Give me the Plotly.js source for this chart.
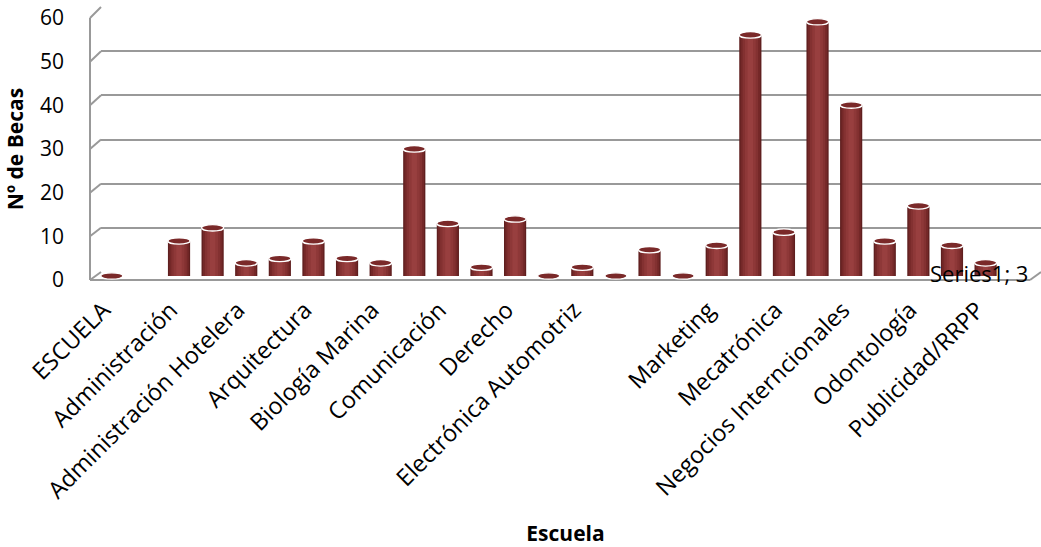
<!DOCTYPE html>
<html>
<head>
<meta charset="utf-8">
<script src="https://cdn.plot.ly/plotly-3.0.1.min.js"></script>
<style>
html,body{margin:0;padding:0;background:#ffffff;}
#chart{width:1041px;height:547px;}
</style>
</head>
<body>
<div id="chart"></div>
<script>
// ---- data ----
// position of each column along the category axis (Excel only labels every 2nd one)
const slots = [0,1,2,3,4,5,6,7,8,9,10,11,12,13,14,15,16,17,18,19,20,21,22,23,24,25,26,27];
const becas = [0,null,8,11,3,4,8,4,3,29,12,2,13,0,2,0,6,0,7,55,10,58,39,8,16,7,3,null];
const tickSlots = [0,2,4,6,8,10,12,14,18,20,22,24,26];
const tickLabels = ['ESCUELA','Administración','Administración Hotelera','Arquitectura',
  'Biología Marina','Comunicación','Derecho','Electrónica Automotriz','Marketing',
  'Mecatrónica','Negocios Interncionales','Odontología','Publicidad/RRPP'];
const yTicks = [0,10,20,30,40,50,60];
const pointLabelSlot = 26;
const pointLabelText = 'Series1; 3';

// ---- layout geometry (pixels) ----
const W = 1041, H = 547;
const mL = 90, mR = 0, mT = 5, mB = 260;
const pw = W - mL - mR, ph = H - mT - mB;
const pyBottom = H - mB;
const fx = px => (px - mL) / pw;
const fy = py => (pyBottom - py) / ph;
const dom = (pBottom, pTop) => [fy(pBottom), fy(pTop)];

const barRange = [-2, 60];
const barZeroPx = 276, barTopPx = 13;           // 0 and 60 on the column plane
const barPxPerUnit = (barZeroPx - barTopPx) / 60;
const barDom = dom(barZeroPx - barRange[0] * barPxPerUnit, barTopPx);
const gridDom = dom(272, 7);                     // back wall
const labDom = dom(280, 18);                     // front edge
const barXDom = [fx(95), fx(1036)];
const gridXDom = [fx(101), 1];
const labelShift = 0.25;                         // front-plane projection of the category labels

const FONT = '"Open Sans", sans-serif';
const GRID = '#999999';

// ---- traces: cylinders made from stacked overlaid bars ----
const shades = [
  {w: 0.66, c: '#5f1f1f'},
  {w: 0.58, c: '#742828'},
  {w: 0.46, c: '#833131'},
  {w: 0.32, c: '#8e3838'},
  {w: 0.16, c: '#983f3f'}
];
const traces = shades.map(s => ({
  type: 'bar', x: slots, y: becas, xaxis: 'x2', yaxis: 'y2',
  width: s.w, marker: {color: s.c, line: {width: 0}},
  hoverinfo: 'skip', showlegend: false
}));
// invisible helpers so the grid and label axes get their subplots
traces.unshift({type: 'scatter', mode: 'markers', x: slots, y: becas, xaxis: 'x', yaxis: 'y',
  marker: {opacity: 0}, hoverinfo: 'skip', showlegend: false});
traces.push({type: 'scatter', mode: 'markers', x: slots, y: becas, xaxis: 'x2', yaxis: 'y3',
  marker: {opacity: 0}, hoverinfo: 'skip', showlegend: false});

// ---- shapes: 3D frame and cylinder caps ----
const shapes = [];
const lineP = (x0, y0, x1, y1) => shapes.push({type: 'line', xref: 'paper', yref: 'paper',
  x0, y0, x1, y1, layer: 'below', line: {color: GRID, width: 2}});
const gY = v => gridDom[0] + v / 60 * (gridDom[1] - gridDom[0]);
const lY = v => labDom[0] + v / 60 * (labDom[1] - labDom[0]);
yTicks.forEach(v => lineP(0, lY(v), gridXDom[0], gY(v)));
lineP(0, lY(0), 0, lY(60));
const frontEnd = 1 - gridXDom[0];
lineP(0, lY(0), frontEnd, lY(0));
lineP(frontEnd, lY(0), 1, gY(0));

const capHalfH = 3.2 / barPxPerUnit;
slots.forEach((s, i) => {
  const v = becas[i];
  if (v === null) return;
  shapes.push({type: 'circle', xref: 'x2', yref: 'y2',
    x0: s - 0.33, x1: s + 0.33, y0: v - capHalfH, y1: v + capHalfH,
    fillcolor: '#7a2929', line: {color: '#ffffff', width: 1.3}, layer: 'above'});
});

const layout = {
  width: W, height: H,
  margin: {l: mL, r: mR, t: mT, b: mB},
  paper_bgcolor: '#ffffff', plot_bgcolor: 'rgba(0,0,0,0)',
  font: {family: FONT, size: 21, color: '#000000'},
  showlegend: false,
  barmode: 'overlay',
  xaxis: {domain: gridXDom, anchor: 'y', range: [-0.5, 27.5], visible: false, fixedrange: true},
  yaxis: {domain: gridDom, anchor: 'x', range: [0, 60], tickvals: yTicks, showticklabels: false,
    showgrid: true, gridcolor: GRID, gridwidth: 2, zeroline: false, showline: false, ticks: '', fixedrange: true},
  xaxis2: {domain: barXDom, anchor: 'y2', range: [-0.5, 27.5],
    tickvals: tickSlots.map(s => s - labelShift), ticktext: tickLabels,
    tickangle: -45, showgrid: false, zeroline: false, showline: false, ticks: '',
    ticklabelstandoff: 6,
    tickfont: {family: FONT, size: 23.5, color: '#000000'},
    title: {text: 'Escuela', font: {family: FONT, size: 21, color: '#000000', weight: 'bold'}, standoff: 22},
    automargin: false, fixedrange: true},
  yaxis2: {domain: barDom, anchor: 'x2', range: barRange, visible: false, fixedrange: true},
  yaxis3: {domain: labDom, anchor: 'x2', range: [0, 60], tickvals: yTicks, showgrid: false,
    zeroline: false, showline: false, ticks: '', ticklabelstandoff: 30,
    tickfont: {family: FONT, size: 21, color: '#000000'},
    title: {text: 'Nº de Becas', font: {family: FONT, size: 21, color: '#000000', weight: 'bold'}, standoff: 10},
    automargin: false, fixedrange: true},
  shapes: shapes,
  annotations: [{
    xref: 'x2', yref: 'y2', x: slots[pointLabelSlot], y: becas[pointLabelSlot],
    text: pointLabelText, showarrow: false, xshift: -7, yshift: -10,
    font: {family: FONT, size: 22, color: '#000000'}
  }]
};

Plotly.newPlot('chart', traces, layout, {displayModeBar: false, staticPlot: true});
</script>
</body>
</html>
